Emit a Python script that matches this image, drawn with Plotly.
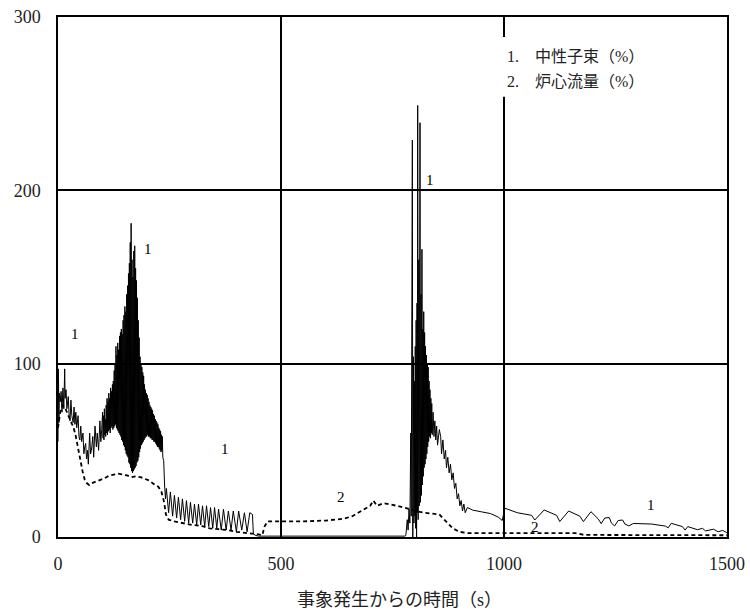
import plotly.graph_objects as go

# Series 1: neutron flux (%)
flux_time = [
    0, 1, 2, 3, 5, 7, 9, 11, 13, 15, 16, 18, 20, 23, 25, 27, 29, 31, 34, 36, 38, 40, 42, 45, 47, 49,
    51, 53, 56, 58, 60, 62, 64, 66, 68, 71, 73, 75, 78, 80, 83, 86, 88, 91, 94, 96, 98,
    100, 101, 102, 103, 104, 105, 106, 107, 108, 109, 110, 111, 112, 113, 114, 115, 116, 117, 118, 119,
    120, 121, 122, 123, 124, 125, 126, 127, 128, 129, 130, 131, 132, 133, 134, 135, 136, 137, 138, 139,
    140, 141, 142, 143, 144, 145, 146, 147, 148, 149, 150, 151, 152, 153, 154, 155, 156, 157, 158, 159,
    160, 161, 162, 163, 164, 165, 166, 167, 168, 169, 170, 171, 172, 173, 174, 175, 176, 177, 178, 179,
    180, 181, 182, 183, 184, 185, 186, 187, 188, 189, 190, 191, 192, 193, 194, 195, 196, 197, 198, 199,
    200, 201, 202, 203, 204, 205, 206, 207, 208, 209, 210, 211, 212, 213, 214, 215, 216, 217, 218, 219,
    220, 221, 222, 223, 224, 225, 226, 227, 228, 229, 230, 231, 232, 233, 234, 235, 237, 239, 241,
    243, 248, 252, 257, 261, 266, 270, 275, 279, 284, 288, 293, 297, 302, 306, 311, 315, 320, 324, 329,
    333, 338, 342, 347, 351, 356, 360, 366, 371, 377, 382, 388, 393, 400, 405, 412, 418, 424, 430, 436,
    438, 442, 450, 600, 778,
    780, 783, 785, 787, 789, 791, 792, 793, 794.5, 795.5, 797, 798, 799, 800, 801, 802, 803, 804, 805, 806,
    806.5, 807.5, 809, 810, 811.7, 812.7, 814, 815, 816, 817, 818, 819, 820, 821, 822, 823, 824, 825, 826,
    827, 828, 829, 830, 831, 832, 833, 834, 835, 836, 837, 838, 839, 841, 843, 845, 847, 849, 851,
    855, 858, 860, 863, 866, 869, 871, 874, 877, 880, 883, 886, 889, 892, 895, 898, 901, 904, 907, 910,
    913, 918, 930, 950, 970, 987, 996, 1002, 1030, 1062, 1069, 1090, 1118, 1125, 1145, 1170, 1178, 1195,
    1211, 1218, 1226, 1236, 1241, 1248, 1256, 1266, 1271, 1280, 1290, 1330, 1362, 1368, 1375, 1400, 1406,
    1412, 1428, 1434, 1445, 1452, 1470, 1480, 1490, 1500,
]
flux_pct = [
    55, 97, 66, 83, 78, 84, 72, 86, 74, 97, 80, 85, 74, 81, 70, 67, 79, 70, 66, 75, 65, 72, 63, 70, 58, 56,
    64, 55, 60, 48, 52, 54, 45, 50, 42, 60, 48, 50, 58, 46, 64, 52, 60, 50, 67, 55, 62,
    72, 57, 70, 56, 74, 59, 68, 58, 76, 60, 80, 59, 78, 61, 83, 62, 80, 60, 86, 63,
    84, 64, 88, 62, 90, 63, 96, 64, 100, 65, 110, 63, 105, 62, 112, 61, 108, 60, 116, 59,
    118, 58, 120, 56, 117, 55, 125, 53, 128, 52, 133, 50, 130, 48, 140, 47, 145, 46, 152, 43,
    158, 42, 170, 40, 181, 38, 160, 37, 150, 38, 165, 39, 168, 40, 155, 41, 148, 43, 138, 44,
    125, 46, 115, 49, 104, 51, 100, 53, 98, 54, 95, 55, 93, 56, 88, 57, 85, 58, 83, 58,
    82, 59, 80, 58, 78, 58, 76, 57, 75, 57, 74, 56, 73, 56, 71, 55, 70, 55, 68, 54,
    67, 53, 66, 52, 65, 52, 63, 51, 62, 50, 61, 49, 59, 50, 58, 46, 44, 30, 22,
    28, 14, 26, 12, 24, 11, 23, 10, 22, 9, 21, 8, 20, 8, 19, 7, 19, 7, 18, 6,
    18, 6, 17, 5, 17, 5, 16, 4, 16, 4, 15, 4, 15, 3, 15, 4, 14, 3, 14, 13,
    2, 1, 0.5, 0.5, 0.5,
    1, 10, 4, 16, 8, 60, 12, 95, 229, 0, 104, 8, 90, 12, 110, 5, 125, 0, 135, 14,
    249, 10, 160, 18, 239, 20, 140, 24, 166, 30, 120, 35, 130, 40, 118, 42, 110, 45, 105,
    48, 100, 52, 98, 55, 90, 58, 85, 57, 80, 60, 77, 59, 72, 58, 67, 56, 64, 53, 62,
    58, 48, 56, 45, 50, 40, 46, 37, 42, 33, 37, 28, 31, 22, 25, 18, 21, 15, 19, 14,
    17, 15.5, 14.5, 13.5, 11.5, 9.5, 16.6, 14, 12.5, 9.8, 15.6, 12.5, 8.9, 15, 12, 8.9, 14.6, 10.5,
    7.7, 11.0, 11.2, 8.0, 6.4, 9.5, 9.8, 7.5, 6.4, 7.8, 7.5, 6.3, 5.3, 7.9, 6.0, 4.0, 6.0,
    4.8, 4.2, 5.0, 3.5, 4.5, 3.0, 3.8, 2.5, 2.0,
]

# Series 2: core flow (%)
flow_time = [
    0, 5, 10, 15, 20, 25, 30, 35, 40, 45, 50, 55, 60, 65, 70, 75, 85, 95, 105, 115, 125, 135, 145, 155,
    165, 175, 185, 195, 205, 215, 225, 232, 238, 242, 248, 260, 280, 300, 320, 340, 360, 380, 400, 420,
    440, 450, 458, 463, 470, 500, 550, 600, 640, 660, 680, 700, 707, 715, 730, 760, 790, 800, 820, 840,
    855, 870, 885, 900, 920, 1000, 1100, 1160, 1180, 1300, 1400, 1500,
]
flow_pct = [
    63, 72, 76, 75, 72, 69, 67, 63, 58, 51, 45, 38, 33, 31, 30, 31, 32, 33, 34, 35.5, 36, 36.5, 36, 35.5,
    34.5, 35, 34.5, 33.5, 32.5, 30.5, 29, 26, 20, 13, 10, 9, 8, 7, 6.5, 5, 4.5, 4, 3, 2.5,
    2, 1.5, 1, 6, 9, 9, 9, 9.5, 10.5, 12, 15, 18, 21, 18, 19.5, 18, 16, 15, 14, 13.5,
    13, 9, 5, 3, 2.2, 2.2, 2.2, 2.2, 1.2, 1, 1, 1,
]

# Axis ticks
x_ticks = [0, 500, 1000, 1500]
y_ticks = [0, 100, 200, 300]
x_title = "事象発生からの時間（s）"

# Curve labels
label_text = ["1", "1", "1", "1", "1", "2", "2"]
label_x = [38, 202, 374, 834, 1329, 634, 1070]
label_y = [117, 166, 51, 206, 18.5, 23, 6]

legend_lines = ["1.\u3000中性子束（%）", "2.\u3000炉心流量（%）"]
legend_y = [277.5, 263]

FONT = "'Liberation Serif', 'Times New Roman', 'DejaVu Serif', 'Noto Sans CJK JP', serif"

fig = go.Figure()
fig.add_trace(go.Scatter(
    x=flux_time, y=flux_pct, mode="lines",
    line=dict(color="black", width=1.0), showlegend=False,
))
fig.add_trace(go.Scatter(
    x=flow_time, y=flow_pct, mode="lines",
    line=dict(color="black", width=1.8, dash="4px,3px"), showlegend=False,
))

for t, xx, yy in zip(label_text, label_x, label_y):
    fig.add_annotation(x=xx, y=yy, text=t, showarrow=False,
                       font=dict(family=FONT, size=15, color="black"))

# white box behind legend text (covers grid line)
fig.add_shape(type="rect", xref="x", yref="y", x0=997, x1=1350, y0=254, y1=288.5,
              fillcolor="white", line=dict(width=0), layer="above")
for s, yy in zip(legend_lines, legend_y):
    fig.add_annotation(x=1002, y=yy, text=s, showarrow=False, xanchor="left",
                       font=dict(family=FONT, size=16, color="#222"))

# x-axis title (slightly right of plot centre, as in the original)
fig.add_annotation(xref="paper", yref="paper", x=0.5105, y=0, yshift=-63,
                   xanchor="center", yanchor="middle", text=x_title, showarrow=False,
                   font=dict(family=FONT, size=18, color="#222"))

axis_common = dict(
    showgrid=True, gridcolor="black", gridwidth=1.5,
    showline=True, linecolor="black", linewidth=1.5, mirror=True,
    zeroline=False, ticks="", automargin=False,
    tickfont=dict(family=FONT, size=18, color="#222"),
)
fig.update_xaxes(range=[0, 1500], tickvals=x_ticks, ticklabelstandoff=10, **axis_common)
fig.update_yaxes(range=[0, 300], tickvals=y_ticks, ticklabelstandoff=12, **axis_common)

fig.update_layout(
    width=750, height=614,
    margin=dict(l=58, r=23, t=17, b=77, autoexpand=False),
    plot_bgcolor="white", paper_bgcolor="white",
    showlegend=False,
)

fig.write_html("out.html", config={"displayModeBar": False},
               post_script="document.body.style.margin='0';document.body.style.padding='0';")
